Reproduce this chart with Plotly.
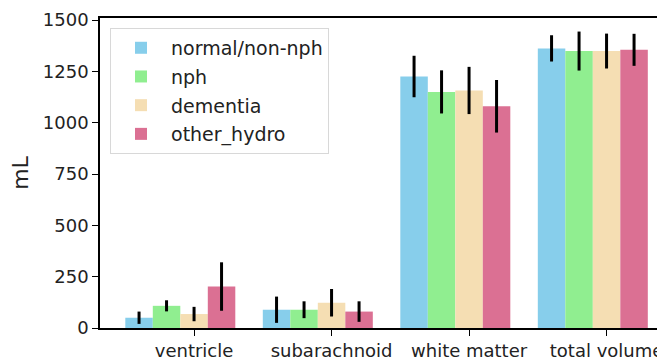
import plotly.graph_objects as go

categories = ["ventricle", "subarachnoid", "white matter", "total volume"]
series_names = ["normal/non-nph", "nph", "dementia", "other_hydro"]
means = {
    "normal/non-nph": [50, 89, 1225, 1362],
    "nph": [108, 89, 1150, 1349],
    "dementia": [68, 123, 1157, 1349],
    "other_hydro": [202, 80, 1080, 1355],
}
stds = {
    "normal/non-nph": [30, 64, 101, 64],
    "nph": [27, 41, 105, 95],
    "dementia": [35, 67, 115, 85],
    "other_hydro": [118, 50, 128, 78],
}
colors = ["#87CEEB", "#90EE90", "#F5DEB3", "#DB7093"]

FONT = "DejaVu Sans"
fig = go.Figure()
w = 0.2
for i, name in enumerate(series_names):
    fig.add_trace(go.Bar(
        x=categories, y=means[name], name=name, legendgroup=name,
        width=w, offset=(i - 2) * w - w / 2,
        marker=dict(color=colors[i], line=dict(width=0)),
        error_y=dict(type="data", array=stds[name], color="black", thickness=3, width=0),
    ))

# page body has an 8px margin, so the figure is offset by 8px on screen
fig.update_layout(
    width=657, height=350,
    margin=dict(l=92, r=0, t=10, b=30),
    barmode="overlay",
    plot_bgcolor="white", paper_bgcolor="white",
    font=dict(family=FONT, size=18, color="#222"),
    legend=dict(x=0.0177, y=0.968, xanchor="left", yanchor="top",
                bgcolor="white", bordercolor="#d8d8d8", borderwidth=1,
                font=dict(size=19), itemwidth=50, tracegroupgap=1,
                traceorder="grouped"),
)
fig.update_xaxes(
    type="category", range=[-0.684, 3.425], automargin=False,
    showline=True, linecolor="black", linewidth=1.5, mirror=True,
    ticks="outside", ticklen=6, tickcolor="black", showgrid=False,
)
fig.update_yaxes(
    range=[0, 1510], tickvals=[0, 250, 500, 750, 1000, 1250, 1500], automargin=False,
    showline=True, linecolor="black", linewidth=1.5,
    ticks="outside", ticklen=6, tickcolor="black", showgrid=False, zeroline=False,
    title=dict(text="mL", standoff=18),
)
fig.write_html("out.html")
